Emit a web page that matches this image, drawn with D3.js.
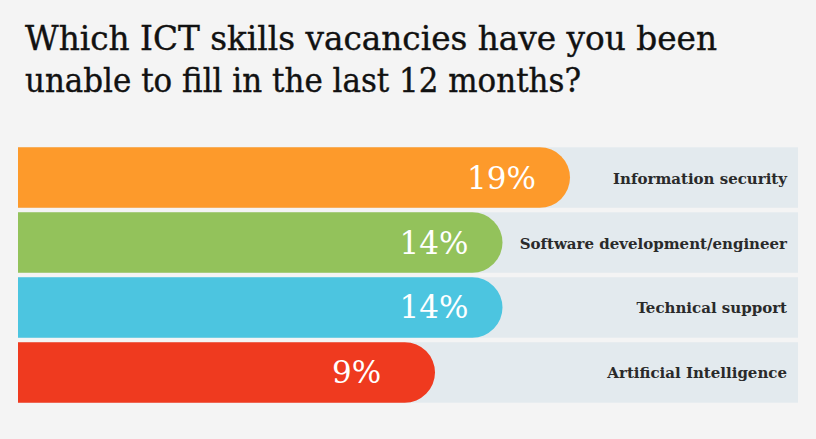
<!DOCTYPE html>
<html><head><meta charset="utf-8">
<script src="https://cdn.jsdelivr.net/npm/d3@7"></script>
<style>html,body{margin:0;padding:0;background:#f4f4f4;}svg{display:block;}</style>
</head><body>
<script>
const categories = ["Information security","Software development/engineer","Technical support","Artificial Intelligence"];
const values = [19, 14, 14, 9];
const valueLabels = ["19%","14%","14%","9%"];
const colors = ["#fd9a2b","#93c25b","#4cc5e0","#ef3a1f"];
const titleLines = ["Which ICT skills vacancies have you been","unable to fill in the last 12 months?"];

const W = 816, H = 439;
const svg = d3.select("body").append("svg").attr("width", W).attr("height", H);
svg.append("rect").attr("width", W).attr("height", H).attr("fill", "#f4f4f4");

const left = 18, right = 798;
const y = d3.scaleBand().domain(categories).range([146, 404]).paddingInner(0.07).paddingOuter(0.02);
const x = d3.scaleLinear().domain([9, 19]).range([435, 570]);

// title
const title = svg.append("text").attr("font-family", "'DejaVu Serif', serif").attr("font-size", 34)
  .attr("fill", "#111").attr("stroke", "#111").attr("stroke-width", 0.4);
titleLines.forEach((t, i) => {
  title.append("tspan").attr("x", 25).attr("y", 50 + i * 42).text(t)
    .attr("textLength", i === 0 ? 692 : 556).attr("lengthAdjust", "spacingAndGlyphs");
});

const rows = svg.append("g").selectAll("g").data(categories).join("g");
rows.append("rect").attr("x", left).attr("y", d => y(d)).attr("width", right - left)
  .attr("height", y.bandwidth()).attr("fill", "#e3eaee");

rows.append("path").attr("fill", (d, i) => colors[i]).attr("d", (d, i) => {
  const h = y.bandwidth(), r = h / 2, x1 = x(values[i]), y0 = y(d);
  return `M${left},${y0}H${x1 - r}A${r},${r} 0 0 1 ${x1 - r},${y0 + h}H${left}Z`;
});

rows.append("text").attr("x", (d, i) => x(values[i]) - 103)
  .attr("y", d => y(d) + y.bandwidth() / 2 + 11)
  .attr("text-anchor", "start").attr("font-family", "'DejaVu Serif', serif").attr("font-size", 31)
  .attr("fill", "#fff").text((d, i) => valueLabels[i]);

rows.append("text").attr("x", 787).attr("y", d => y(d) + y.bandwidth() / 2 + 6)
  .attr("text-anchor", "end").attr("font-family", "'DejaVu Serif', serif").attr("font-size", 15)
  .attr("font-weight", "bold").attr("fill", "#2a2a2a").text(d => d);
</script>
</body></html>
